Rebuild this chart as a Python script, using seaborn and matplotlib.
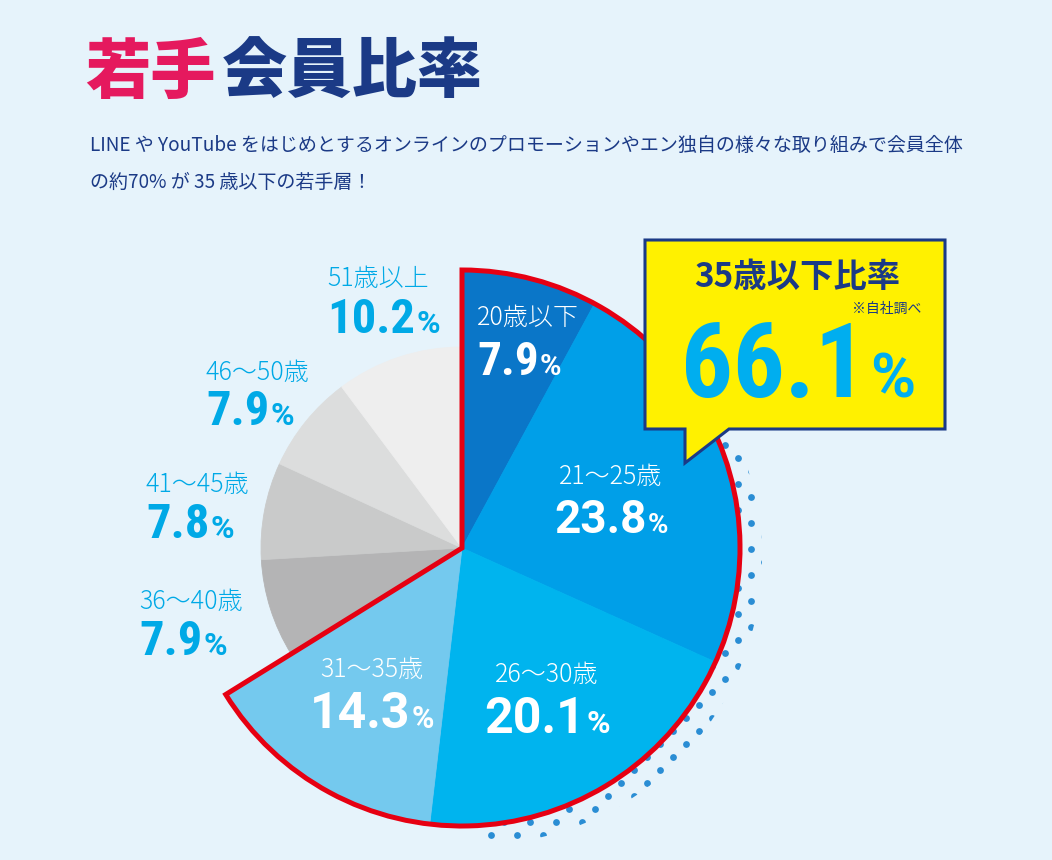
import numpy as np
import pandas as pd
import matplotlib
matplotlib.use('Agg')
import matplotlib.pyplot as plt
from matplotlib.patches import Wedge, Polygon, Circle
from matplotlib import font_manager
import seaborn as sns

# data
age_groups = ['20歳以下', '21～25歳', '26～30歳', '31～35歳',
              '36～40歳', '41～45歳', '46～50歳', '51歳以上']
shares = [7.9, 23.8, 20.1, 14.3, 7.9, 7.8, 7.9, 10.2]
is_young = [True, True, True, True, False, False, False, False]
slice_colors = ['#0a76c8', '#009fe8', '#00b4ee', '#74c9ee',
                '#b4b4b5', '#c9caca', '#dcdddd', '#eeeeee']
title_pink = '若手'
title_navy = '会員比率'
subtitle_lines = ['LINE や YouTube をはじめとするオンラインのプロモーションやエン独自の様々な取り組みで会員全体',
                  'の約70% が 35 歳以下の若手層！']
callout_head = '35歳以下比率'
callout_note = '※自社調べ'

df = pd.DataFrame({'group': age_groups, 'share': shares, 'young': is_young, 'color': slice_colors})

# colours / layout
BG = '#e6f3fb'
NAVY = '#1b3a86'
PINK = '#e5195e'
CYAN = '#00a9e6'
RED = '#e60012'
CX, CY = 462, 548
R_BIG, R_SMALL = 278, 201

sns.set_theme(style='white')
plt.rcParams['font.family'] = ['Noto Sans CJK JP', 'DejaVu Sans']

names = {f.name for f in font_manager.fontManager.ttflist}
COND = 'Roboto Condensed' if 'Roboto Condensed' in names else 'Roboto'
WIDE = 'Roboto'

# label anchors (pixel coords): label x, label y, value baseline y, align, label size,
# value size, pct size, number font
label_layout = [
    (477, 318, 375, 'left', 18, 34, 21, COND),
    (611, 477, 533, 'center', 18, 33, 20, WIDE),
    (547, 675, 733, 'center', 18, 36, 23, WIDE),
    (372, 670, 728, 'center', 18, 36, 22, WIDE),
    (139, 602, 655, 'left', 18, 35, 23, COND),
    (146, 485, 538, 'left', 18, 35, 23, COND),
    (206, 373, 425, 'left', 18, 35, 23, COND),
    (327, 279, 333, 'left', 18, 35, 23, COND),
]

fig = plt.figure(figsize=(10.52, 8.6), dpi=100, facecolor=BG)
ax = fig.add_axes([0, 0, 1, 1])
ax.set_facecolor(BG)

# pie: young slices on the big radius, older ones on the small radius
big_cols = [c if y else 'none' for c, y in zip(df['color'], df['young'])]
small_cols = ['none' if y else c for c, y in zip(df['color'], df['young'])]

# halftone dot shadow behind the young part
sp = 13
gx, gy = np.meshgrid(np.arange(400, 820, sp), np.arange(380, 860, sp))
ii, jj = np.meshgrid(np.arange(gx.shape[1]), np.arange(gx.shape[0]))
ang = np.degrees(np.arctan2(gy - CY, gx - CX))
keep = ((ii + jj) % 2 == 0) & (ang > -65) & (ang < 87) & (np.hypot(gx - 475, gy - 558) < 292)
dots = ax.scatter(gx[keep], gy[keep], s=24, color='#2a8dd4', linewidths=0, zorder=1)
shadow = Circle((475, 558), 287, transform=ax.transData)
dots.set_clip_path(shadow)

for cols, rad in [(small_cols, R_SMALL), (big_cols, R_BIG)]:
    wedges, _ = ax.pie(df['share'], colors=cols, radius=rad, center=(CX, CY),
                       startangle=-90, counterclock=True, frame=True,
                       wedgeprops=dict(linewidth=0.6))
    for w in wedges:
        w.set_edgecolor(w.get_facecolor())
        w.set_zorder(2)

# red outline around the under-35 share
young_frac = df.loc[df['young'], 'share'].sum() / df['share'].sum()
ax.add_patch(Wedge((CX, CY), R_BIG, -90, -90 + 360 * young_frac, facecolor='none',
                   edgecolor=RED, linewidth=3.6, joinstyle='miter', zorder=3))

# callout
ax.add_patch(Polygon([(645, 240), (945, 240), (945, 429), (729, 429), (685, 463),
                      (685, 429), (645, 429)], closed=True, facecolor='#fff100',
                     edgecolor=NAVY, linewidth=2.2, joinstyle='miter', zorder=4))

ax.set_xlim(0, 1052)
ax.set_ylim(860, 0)
ax.set_aspect('equal')
ax.set_axis_off()

renderer = fig.canvas.get_renderer()


def put_value(x, y, number, size, pct_size, color, ha='left', gap=1, font=COND):
    t = ax.text(x, y, number, fontsize=size, color=color, fontweight='bold',
                family=font, ha='left', va='baseline', zorder=6)
    p = ax.text(x, y, '%', fontsize=pct_size, color=color, fontweight='bold',
                family=WIDE, ha='left', va='baseline', zorder=6)
    w1 = t.get_window_extent(renderer).width
    w2 = p.get_window_extent(renderer).width
    x0 = x - (w1 + gap + w2) / 2 if ha == 'center' else x
    t.set_x(x0)
    p.set_x(x0 + w1 + gap)


for (g, s, y), (lx, ly, vy, ha, ls, vs, ps, fnt) in zip(zip(df['group'], df['share'], df['young']), label_layout):
    col = 'white' if y else CYAN
    ax.text(lx, ly, g, fontsize=ls, fontweight='light', color=col, ha=ha, va='center', zorder=6)
    put_value(lx, vy, f'{s:.1f}', vs, ps, col, ha=ha, font=fnt)

# titles
ax.text(85, 73, title_pink, fontsize=47, fontweight='heavy', color=PINK, ha='left', va='center')
ax.text(222, 73, title_navy, fontsize=47, fontweight='heavy', color=NAVY, ha='left', va='center')
ax.text(90, 145, subtitle_lines[0], fontsize=13.7, color=NAVY, ha='left', va='center')
ax.text(90, 182, subtitle_lines[1], fontsize=13.7, color=NAVY, ha='left', va='center')

ax.text(797, 277, callout_head, fontsize=24, fontweight='bold', color=NAVY,
        ha='center', va='center', zorder=6)
ax.text(887, 309, callout_note, fontsize=10, color=NAVY, ha='center', va='center', zorder=6)
put_value(798, 397, f'{young_frac * df["share"].sum():.1f}', 74, 44, '#00aeef', ha='center', gap=4)

fig.savefig('out.png', dpi=100, facecolor=BG)
